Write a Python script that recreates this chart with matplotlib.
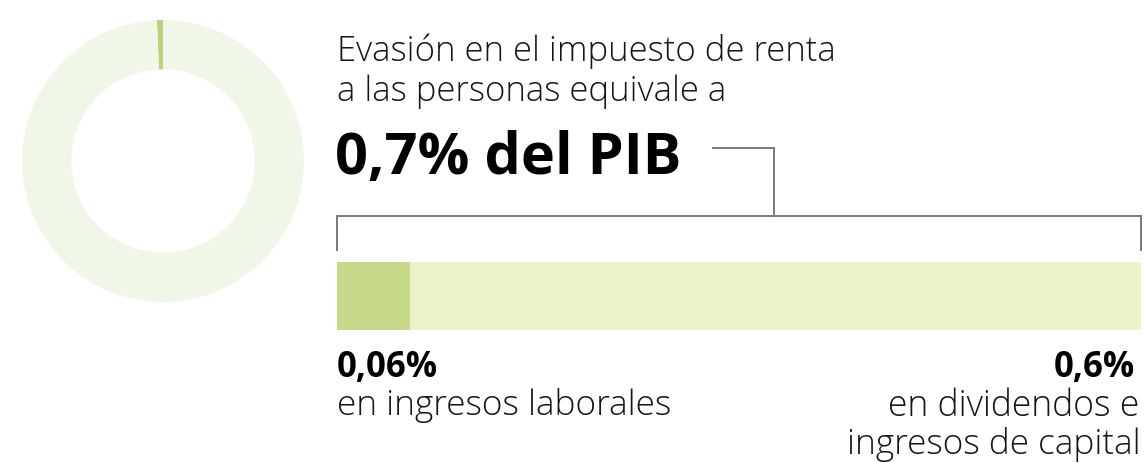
import matplotlib
matplotlib.use("Agg")
import matplotlib.pyplot as plt

# ---- data ----
donut_values = [0.7, 99.3]          # % del PIB evadido vs resto
bar_labels = ["0,06%", "0,6%"]
bar_values = [0.06, 0.6]
bar_desc = ["en ingresos laborales", "en dividendos e\ningresos de capital"]
title_lines = "Evasión en el impuesto de renta\na las personas equivale a"
headline = "0,7% del PIB"

W, H = 1145, 464
fig = plt.figure(figsize=(W / 100, H / 100), dpi=100)
fig.patch.set_facecolor("white")

FONT = "Open Sans"
TXT = "#161616"

def fx(x):
    return x / W

def fy(y):
    return 1 - y / H

# overlay axes in pixel coordinates
ov = fig.add_axes([0, 0, 1, 1])
ov.set_xlim(0, W)
ov.set_ylim(H, 0)
ov.axis("off")

# ---- donut ----
cx, cy, R = 163, 162, 141
dax = fig.add_axes([fx(cx - R), fy(cy + R), 2 * R / W, 2 * R / H])
dax.pie(donut_values, colors=["#bad47c", "#f0f7e8"], startangle=90,
        counterclock=True, radius=1.0,
        wedgeprops=dict(width=0.35, linewidth=0))
dax.set_xlim(-1, 1)
dax.set_ylim(-1, 1)
dax.set_aspect("auto")
dax.axis("off")

# ---- bar ----
bx0, bx1, by0, by1 = 337, 1141, 263, 331
bax = fig.add_axes([fx(bx0), fy(by1), (bx1 - bx0) / W, (by1 - by0) / H])
bax.barh([0], [bar_values[0]], left=0, height=1.0, color="#c6da8a", linewidth=0)
bax.barh([0], [bar_values[1]], left=bar_values[0], height=1.0, color="#edf1c8", linewidth=0)
bax.set_xlim(0, sum(bar_values))
bax.set_ylim(-0.5, 0.5)
bax.axis("off")

# ---- bracket / connector ----
lc = "#7a7a7a"
lw = 1.4
ov.plot([bx0, bx0, bx1, bx1], [251, 217, 217, 251], color=lc, lw=lw,
        solid_joinstyle="miter")
ov.plot([713, 774, 774], [149, 149, 217], color=lc, lw=lw, solid_joinstyle="miter")

# ---- texts ----
ov.text(bx0, 61, title_lines.split("\n")[0], fontsize=25, family=FONT,
        fontweight="light", color=TXT, va="baseline", ha="left")
ov.text(bx0, 101, title_lines.split("\n")[1], fontsize=25, family=FONT,
        fontweight="light", color=TXT, va="baseline", ha="left")
ov.text(bx0 - 2, 174, headline, fontsize=41.5, family=FONT, fontweight="bold",
        color="black", va="baseline", ha="left")

ov.text(bx0, 377, bar_labels[0], fontsize=25, family=FONT, fontweight="bold",
        color="black", va="baseline", ha="left")
ov.text(bx0, 415, bar_desc[0], fontsize=25.4, family=FONT, fontweight="light",
        color=TXT, va="baseline", ha="left")

ov.text(bx1 - 6, 377, bar_labels[1], fontsize=25, family=FONT, fontweight="bold",
        color="black", va="baseline", ha="right")
d2 = bar_desc[1].split("\n")
ov.text(bx1 - 2, 416, d2[0], fontsize=25.6, family=FONT, fontweight="light",
        color=TXT, va="baseline", ha="right")
ov.text(bx1, 454, d2[1], fontsize=25.4, family=FONT, fontweight="light",
        color=TXT, va="baseline", ha="right")

fig.savefig("out.png", dpi=100, facecolor="white")
